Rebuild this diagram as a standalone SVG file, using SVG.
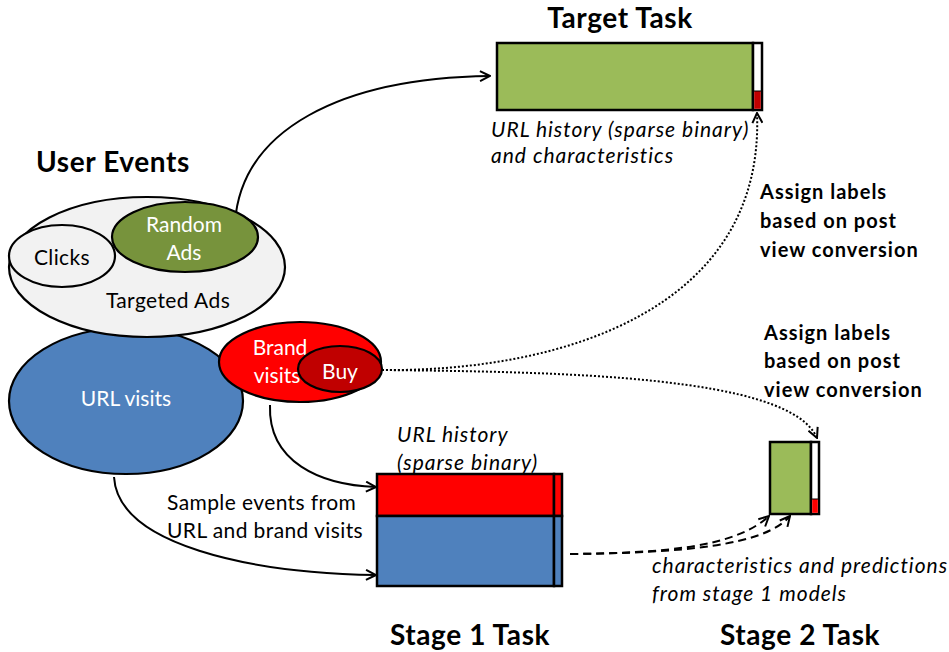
<svg xmlns="http://www.w3.org/2000/svg" width="949" height="652" viewBox="0 0 949 652">
<style>
text{font-family:Lato,"Open Sans",sans-serif;fill:#000}
.t{font-weight:bold;font-size:28px;text-anchor:middle;letter-spacing:0.6px}
.b{font-weight:bold;font-size:20px;letter-spacing:1px}
.i{font-style:italic;font-size:21px;letter-spacing:1px}
.r{font-size:21px;letter-spacing:0.4px}
.w{fill:#fff;font-size:21px;text-anchor:middle}
.e{stroke:#000;stroke-width:2.2}
.box{stroke:#000;stroke-width:2.5}
.c{fill:none;stroke:#000;stroke-width:2}
.dot{stroke-dasharray:2 2}
.dash{stroke-dasharray:8 5}
</style>
<defs>
<marker id="ar" viewBox="0 0 12 12" refX="11" refY="6" markerWidth="12" markerHeight="12" markerUnits="userSpaceOnUse" orient="auto">
<path d="M1,1 L11,6 L1,11" fill="none" stroke="#000" stroke-width="2"/>
</marker>
</defs>

<g id="connectors">
<path class="c" d="M235,222 C242,130 340,78 490,76" marker-end="url(#ar)"/>
<path class="c" d="M270,405 C268,462 320,485 376,487" marker-end="url(#ar)"/>
<path class="c" d="M114,477 C118,545 250,573 376,575" marker-end="url(#ar)"/>
<path class="c dot" d="M382,370 C560,372 765,310 757,113" marker-end="url(#ar)"/>
<path class="c dot" d="M382,370 C560,372 790,375 817,438" marker-end="url(#ar)"/>
<path class="c dash" d="M570,554 C660,553 735,548 769,516" marker-end="url(#ar)"/>
<path class="c dash" d="M570,554 C680,553 765,546 790,516" marker-end="url(#ar)"/>
</g>

<g id="url-visits">
<ellipse class="e" cx="126" cy="401" rx="117" ry="73" fill="#4F81BD"/>
<text class="w" x="126" y="406">URL visits</text>
</g>

<g id="targeted-ads">
<ellipse class="e" cx="147" cy="267" rx="138" ry="70" fill="#F2F2F2"/>
<text class="r" x="168" y="308" text-anchor="middle">Targeted Ads</text>
</g>

<g id="clicks">
<ellipse class="e" cx="62" cy="256" rx="53" ry="31" fill="#F2F2F2"/>
<text class="r" x="62" y="265" text-anchor="middle">Clicks</text>
</g>

<g id="random-ads">
<ellipse class="e" cx="185" cy="237" rx="73" ry="35" fill="#77933C"/>
<text class="w" x="184" y="232">Random</text>
<text class="w" x="184" y="260">Ads</text>
</g>

<g id="brand-visits">
<ellipse class="e" cx="300" cy="362" rx="81" ry="40" fill="#FF0000"/>
<text class="w" x="280" y="355">Brand</text>
<text class="w" x="277" y="383">visits</text>
</g>

<g id="buy">
<ellipse class="e" cx="340" cy="369" rx="42" ry="23" fill="#C00000"/>
<text class="w" x="340" y="379">Buy</text>
</g>

<g id="user-events-title">
<text class="t" x="113" y="172">User Events</text>
</g>

<g id="target-task">
<text class="t" x="620" y="28">Target Task</text>
<rect class="box" x="497" y="43" width="256" height="67" fill="#9BBB59"/>
<rect class="box" x="753" y="43" width="9" height="67" fill="#fff"/>
<rect x="754.2" y="91" width="6.6" height="17.8" fill="#C00000"/>
<line x1="753" y1="91" x2="762" y2="91" stroke="#000" stroke-width="1"/>
<text class="i" x="491" y="137">URL history (sparse binary)</text>
<text class="i" x="491" y="163">and characteristics</text>
</g>

<g id="stage1-task">
<rect class="box" x="377" y="474" width="177" height="42" fill="#FF0000"/>
<rect class="box" x="554" y="474" width="8" height="42" fill="#FF0000"/>
<rect class="box" x="377" y="516" width="177" height="70" fill="#4F81BD"/>
<rect class="box" x="554" y="516" width="8" height="70" fill="#4F81BD"/>
<text class="i" x="397" y="442">URL history</text>
<text class="i" x="397" y="470">(sparse binary)</text>
<text class="t" x="470" y="645">Stage 1 Task</text>
</g>

<g id="stage2-task">
<rect class="box" x="770" y="442" width="41" height="72" fill="#9BBB59"/>
<rect class="box" x="811" y="442" width="8" height="72" fill="#fff"/>
<rect x="812.2" y="499" width="5.6" height="13.8" fill="#FF0000"/>
<line x1="811" y1="499" x2="819" y2="499" stroke="#000" stroke-width="1"/>
<text class="i" x="652" y="573">characteristics and predictions</text>
<text class="i" x="652" y="601">from stage 1 models</text>
<text class="t" x="800" y="645">Stage 2 Task</text>
</g>

<g id="labels">
<text class="b" x="760" y="199">Assign labels</text>
<text class="b" x="760" y="228">based on post</text>
<text class="b" x="760" y="257">view conversion</text>
<text class="b" x="764" y="340">Assign labels</text>
<text class="b" x="764" y="368">based on post</text>
<text class="b" x="764" y="397">view conversion</text>
<text class="r" x="167" y="510">Sample events from</text>
<text class="r" x="167" y="538">URL and brand visits</text>
</g>
</svg>
